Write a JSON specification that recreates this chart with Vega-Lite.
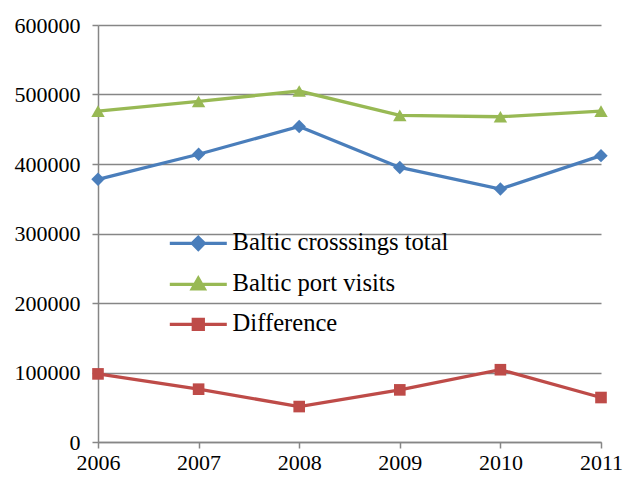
{
  "$schema": "https://vega.github.io/schema/vega-lite/v6.json",
  "width": 503,
  "height": 417,
  "autosize": "none",
  "padding": {"left": 98, "top": 25, "right": 24, "bottom": 35},
  "background": "white",
  "config": {
    "view": {"stroke": null},
    "font": "Liberation Serif",
    "axis": {
      "labelFont": "Liberation Serif",
      "labelFontSize": 22,
      "labelColor": "#000000",
      "domainColor": "#868686",
      "domainWidth": 1.5,
      "tickColor": "#868686",
      "tickWidth": 1.5,
      "tickSize": 6,
      "gridColor": "#868686",
      "gridWidth": 1.5,
      "gridOpacity": 1,
      "title": null
    },
    "legend": {"labelFont": "Liberation Serif"}
  },
  "data": {
    "values": [
      {"year": "2006", "series": "Baltic crosssings total", "value": 378000},
      {"year": "2007", "series": "Baltic crosssings total", "value": 414000},
      {"year": "2008", "series": "Baltic crosssings total", "value": 454000},
      {"year": "2009", "series": "Baltic crosssings total", "value": 395000},
      {"year": "2010", "series": "Baltic crosssings total", "value": 364000},
      {"year": "2011", "series": "Baltic crosssings total", "value": 412000},
      {"year": "2006", "series": "Baltic port visits", "value": 476000},
      {"year": "2007", "series": "Baltic port visits", "value": 490000},
      {"year": "2008", "series": "Baltic port visits", "value": 505000},
      {"year": "2009", "series": "Baltic port visits", "value": 470000},
      {"year": "2010", "series": "Baltic port visits", "value": 468000},
      {"year": "2011", "series": "Baltic port visits", "value": 476000},
      {"year": "2006", "series": "Difference", "value": 98000},
      {"year": "2007", "series": "Difference", "value": 76000},
      {"year": "2008", "series": "Difference", "value": 51000},
      {"year": "2009", "series": "Difference", "value": 75000},
      {"year": "2010", "series": "Difference", "value": 104000},
      {"year": "2011", "series": "Difference", "value": 64000}
    ]
  },
  "encoding": {
    "x": {
      "field": "year",
      "type": "ordinal",
      "scale": {"type": "point", "padding": 0},
      "axis": {"labelAngle": 0, "labelPadding": 4, "grid": false, "labelFont": "Liberation Serif"}
    },
    "y": {
      "field": "value",
      "type": "quantitative",
      "scale": {"domain": [0, 600000], "nice": false},
      "axis": {"values": [0, 100000, 200000, 300000, 400000, 500000, 600000], "format": "d", "labelPadding": 12, "grid": true, "labelFont": "Liberation Serif"}
    },
    "color": {
      "field": "series",
      "type": "nominal",
      "scale": {
        "domain": ["Baltic crosssings total", "Baltic port visits", "Difference"],
        "range": ["#4A7EBB", "#98B954", "#BE4B48"]
      }
    }
  },
  "layer": [
    {
      "mark": {"type": "line", "strokeWidth": 3.3},
      "encoding": {
        "color": {
          "field": "series",
          "type": "nominal",
          "legend": {
            "title": null,
            "orient": "none",
            "legendX": 88,
            "legendY": 206,
            "labelFont": "Liberation Serif",
            "labelFontSize": 24.6,
            "labelColor": "#000000",
            "labelLimit": 400,
            "labelOffset": 22,
            "symbolSize": 400,
            "symbolStrokeWidth": 3.3,
            "rowPadding": 15,
            "encode": {
              "symbols": {
                "update": {
                  "shape": {"signal": "datum.value === 'Difference' ? 'M-2.85,0H2.85M-0.5,-0.5H0.5V0.5H-0.5Z' : (datum.value === 'Baltic port visits' ? 'M-2.85,0H2.85M0,-0.6L0.6,0.45L-0.6,0.45Z' : 'M-2.85,0H2.85M0,-0.6L0.6,0L0,0.6L-0.6,0Z')"},
                  "fill": {"signal": "datum.value === 'Difference' ? '#BE4B48' : (datum.value === 'Baltic port visits' ? '#98B954' : '#4A7EBB')"},
                  "stroke": {"signal": "datum.value === 'Difference' ? '#BE4B48' : (datum.value === 'Baltic port visits' ? '#98B954' : '#4A7EBB')"},
                  "fillOpacity": {"value": 1},
                  "opacity": {"value": 1}
                }
              }
            }
          }
        }
      }
    },
    {
      "transform": [{"filter": "datum.series === 'Baltic crosssings total'"}],
      "mark": {"type": "point", "filled": true, "opacity": 1, "shape": "diamond", "size": 180}
    },
    {
      "transform": [{"filter": "datum.series === 'Baltic port visits'"}],
      "mark": {"type": "point", "filled": true, "opacity": 1, "shape": "triangle-up", "size": 180}
    },
    {
      "transform": [{"filter": "datum.series === 'Difference'"}],
      "mark": {"type": "point", "filled": true, "opacity": 1, "shape": "square", "size": 135}
    }
  ]
}
